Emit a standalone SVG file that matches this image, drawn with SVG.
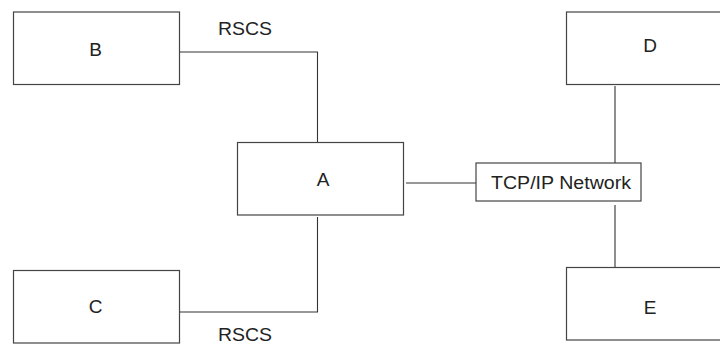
<svg xmlns="http://www.w3.org/2000/svg" width="720" height="346" viewBox="0 0 720 346">
<style>
.box{fill:#fff;stroke:#444;stroke-width:1.2}
.ln{fill:none;stroke:#333;stroke-width:1.1}
text{font-family:"Liberation Sans",Arial,sans-serif;font-size:18px;fill:#222}
.c{text-anchor:middle;font-size:19px}
</style>
<rect width="720" height="346" fill="#fff"/>
<g id="connectors">
<polyline class="ln" points="179.5,52 317.5,52 317.5,142.5"/>
<polyline class="ln" points="317.5,217 317.5,312 179.5,312"/>
<line class="ln" x1="406" y1="183" x2="476" y2="183"/>
<line class="ln" x1="615" y1="86" x2="615" y2="163"/>
<line class="ln" x1="615" y1="205" x2="615" y2="267"/>
<text x="218" y="35" textLength="54" lengthAdjust="spacingAndGlyphs">RSCS</text>
<text x="218" y="341" textLength="54" lengthAdjust="spacingAndGlyphs">RSCS</text>
</g>
<g id="B"><rect class="box" x="13.5" y="12" width="166" height="72.5"/><text class="c" x="95.5" y="56">B</text></g>
<g id="A"><rect class="box" x="237.5" y="142.5" width="166" height="72.5"/><text class="c" x="323" y="186">A</text></g>
<g id="C"><rect class="box" x="13.5" y="270.5" width="166" height="72.5"/><text class="c" x="95.5" y="313">C</text></g>
<g id="D"><rect class="box" x="566.5" y="12" width="170" height="72.5"/><text class="c" x="650" y="52">D</text></g>
<g id="E"><rect class="box" x="566.5" y="267.5" width="170" height="72.5"/><text class="c" x="650" y="314">E</text></g>
<g id="TCP"><rect class="box" x="476" y="163" width="165" height="38"/><text x="491" y="189" textLength="140" lengthAdjust="spacingAndGlyphs">TCP/IP Network</text></g>
</svg>
